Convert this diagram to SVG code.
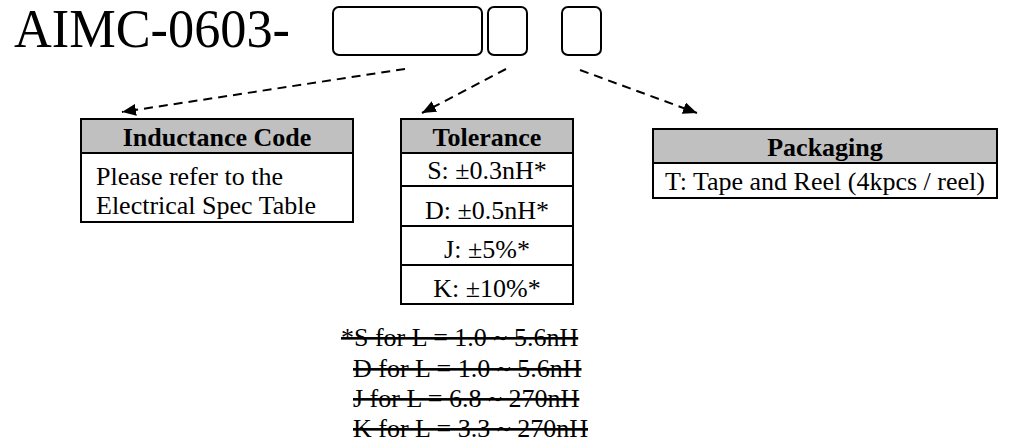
<svg xmlns="http://www.w3.org/2000/svg" width="1009" height="444" viewBox="0 0 1009 444">
<defs>
<marker id="arr" viewBox="0 0 14 12" refX="14" refY="6" markerWidth="14" markerHeight="12" markerUnits="userSpaceOnUse" orient="auto">
<path d="M0,0 L14,6 L0,12 Z" fill="#000"/>
</marker>
<style>
text{font-family:"Liberation Serif","Times New Roman",serif;fill:#000}
.t{font-size:26px}
.b{font-size:26px;font-weight:bold}
.c{text-anchor:middle}
.hd{fill:#c0c0c0;stroke:#000;stroke-width:2}
.bx{fill:#fff;stroke:#000;stroke-width:2}
.slot{fill:none;stroke:#000;stroke-width:2}
.con{fill:none;stroke:#000;stroke-width:2;stroke-dasharray:9 6}
.st{text-decoration:line-through}
</style>
</defs>
<rect width="1009" height="444" fill="#fff"/>
<g id="title">
<text x="14" y="47" style="font-size:54px" textLength="276" lengthAdjust="spacingAndGlyphs">AIMC-0603-</text>
<rect class="slot" x="333" y="7" width="149" height="48" rx="6"/>
<rect class="slot" x="488" y="7" width="39" height="48" rx="6"/>
<rect class="slot" x="562" y="7" width="39" height="48" rx="6"/>
</g>
<g id="connectors">
<line class="con" x1="405" y1="69" x2="122" y2="112" marker-end="url(#arr)"/>
<line class="con" x1="506" y1="69" x2="422" y2="113" marker-end="url(#arr)"/>
<line class="con" x1="580" y1="70" x2="697" y2="113" marker-end="url(#arr)"/>
</g>
<g id="inductance">
<rect class="bx" x="81" y="119" width="272" height="103"/>
<rect class="hd" x="81" y="119" width="272" height="34"/>
<text class="b c" x="217" y="146">Inductance Code</text>
<text class="t" x="96" y="185">Please refer to the</text>
<text class="t" x="96" y="214">Electrical Spec Table</text>
</g>
<g id="tolerance">
<rect class="hd" x="401" y="119" width="172" height="34"/>
<rect class="bx" x="401" y="153" width="172" height="33"/>
<rect class="bx" x="401" y="186" width="172" height="40"/>
<rect class="bx" x="401" y="226" width="172" height="39"/>
<rect class="bx" x="401" y="265" width="172" height="39"/>
<text class="b c" x="487" y="146">Tolerance</text>
<text class="t c" x="487" y="179">S: ±0.3nH*</text>
<text class="t c" x="487" y="219">D: ±0.5nH*</text>
<text class="t c" x="487" y="258">J: ±5%*</text>
<text class="t c" x="487" y="297">K: ±10%*</text>
</g>
<g id="packaging">
<rect class="bx" x="653" y="129" width="344" height="69"/>
<rect class="hd" x="653" y="129" width="344" height="34"/>
<text class="b c" x="825" y="156">Packaging</text>
<text class="t c" x="825" y="190">T: Tape and Reel (4kpcs / reel)</text>
</g>
<g id="footnote">
<text class="t st" x="341" y="346">*S for L = 1.0 ~ 5.6nH</text>
<text class="t st" x="353" y="377">D for L = 1.0 ~ 5.6nH</text>
<text class="t st" x="353" y="407">J for L = 6.8 ~ 270nH</text>
<text class="t st" x="353" y="437">K for L = 3.3 ~ 270nH</text>
</g>
</svg>
